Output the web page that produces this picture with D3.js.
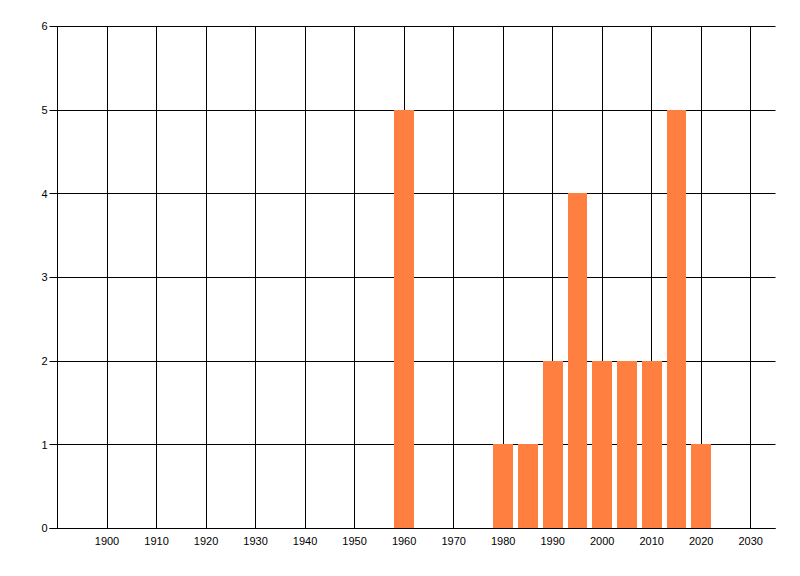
<!DOCTYPE html>
<html>
<head>
<meta charset="utf-8">
<script src="https://cdn.jsdelivr.net/npm/d3@7"></script>
<style>
html,body{margin:0;padding:0;background:#fff;}
svg{display:block;}
text{font-family:"Liberation Sans",Arial,sans-serif;font-size:11px;fill:#000;}
</style>
</head>
<body>
<svg id="chart" width="800" height="576"></svg>
<script>
const years = [1960, 1980, 1985, 1990, 1995, 2000, 2005, 2010, 2015, 2020];
const counts = [5, 1, 1, 2, 4, 2, 2, 2, 5, 1];
const xTicks = [1900, 1910, 1920, 1930, 1940, 1950, 1960, 1970, 1980, 1990, 2000, 2010, 2020, 2030];
const yTicks = [0, 1, 2, 3, 4, 5, 6];
const xDomain = [1890, 2035];
const yDomain = [0, 6];
const barYears = 4;

(function () {
const svg = d3.select("#chart");
const mLeft = 57.5, mRight = 775.5, mTop = 26.5, mBottom = 528.5;
const x = d3.scaleLinear().domain(xDomain).range([mLeft, mRight]);
const y = d3.scaleLinear().domain(yDomain).range([mBottom, mTop]);

const g = svg.append("g");

// horizontal gridlines with left ticks
g.selectAll("line.hgrid").data(yTicks).join("line")
  .attr("class", "hgrid")
  .attr("x1", mLeft - 8).attr("x2", mRight)
  .attr("y1", d => Math.floor(y(d)) + 0.5).attr("y2", d => Math.floor(y(d)) + 0.5)
  .attr("stroke", "#000").attr("stroke-width", 1);

// vertical gridlines
g.selectAll("line.vgrid").data(xTicks).join("line")
  .attr("class", "vgrid")
  .attr("x1", d => Math.floor(x(d)) + 0.5).attr("x2", d => Math.floor(x(d)) + 0.5)
  .attr("y1", mTop).attr("y2", mBottom)
  .attr("stroke", "#000").attr("stroke-width", 1);

// left axis line
g.append("line").attr("x1", mLeft).attr("x2", mLeft).attr("y1", mTop).attr("y2", mBottom)
  .attr("stroke", "#000");

// bars
const data = years.map((yr, i) => ({yr, v: counts[i]}));
g.selectAll("rect.bar").data(data).join("rect")
  .attr("class", "bar")
  .attr("x", d => Math.round(x(d.yr - barYears / 2)))
  .attr("width", d => Math.round(x(d.yr + barYears / 2)) - Math.round(x(d.yr - barYears / 2)))
  .attr("y", d => Math.floor(y(d.v)))
  .attr("height", d => Math.floor(y(0)) - Math.floor(y(d.v)))
  .attr("fill", "#ff7f40");

// bottom axis line redraw
g.append("line").attr("x1", mLeft - 8).attr("x2", mRight)
  .attr("y1", Math.floor(y(0)) + 0.5).attr("y2", Math.floor(y(0)) + 0.5).attr("stroke", "#000");

// y labels
g.selectAll("text.yl").data(yTicks).join("text")
  .attr("class", "yl")
  .attr("x", mLeft - 10).attr("y", d => y(d))
  .attr("dy", "0.35em").attr("text-anchor", "end").text(d => d);

// x labels
g.selectAll("text.xl").data(xTicks).join("text")
  .attr("class", "xl")
  .attr("x", d => x(d)).attr("y", mBottom + 13)
  .attr("dy", "0.35em").attr("text-anchor", "middle").text(d => d);
})();
</script>
</body>
</html>
